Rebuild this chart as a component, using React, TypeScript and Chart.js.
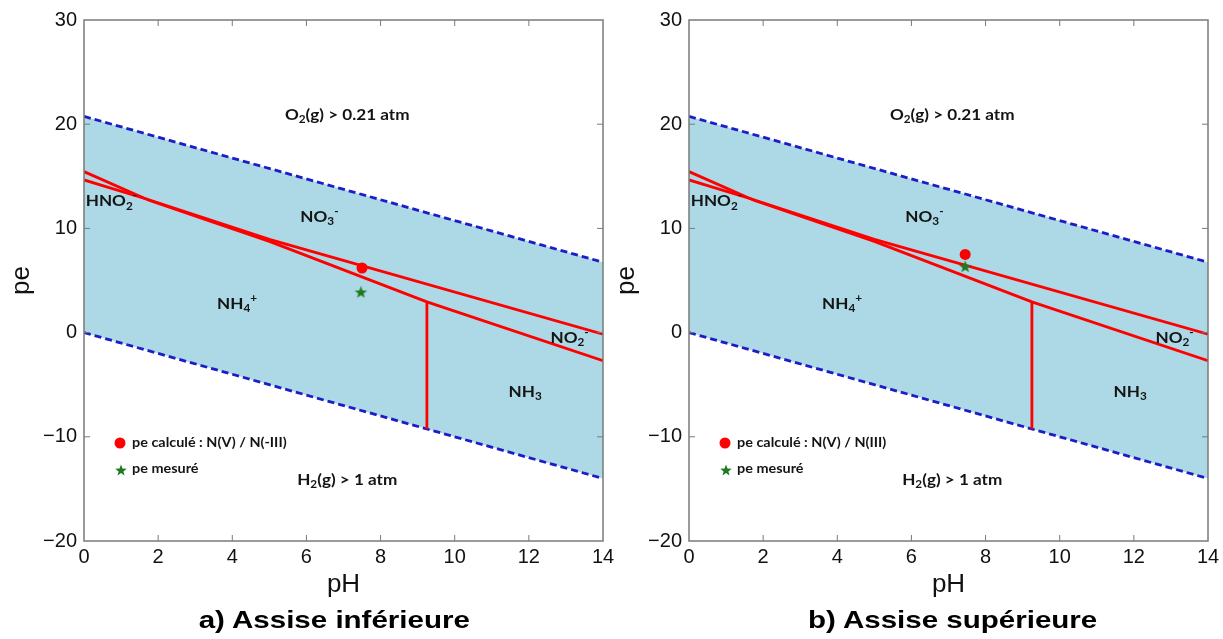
import React, { useEffect, useRef } from "react";
import { Chart, registerables } from "chart.js";

Chart.register(...registerables);

// ---- data ----
const X_TICKS = [0, 2, 4, 6, 8, 10, 12, 14];
const Y_TICKS = [-20, -10, 0, 10, 20, 30];

const WATER_PH = [0, 14];
const O2_PE = [20.75, 6.75];
const H2_PE = [0, -14];

const LINE_A_PH = [0, 1.75, 5.0, 9.25, 14];
const LINE_A_PE = [15.45, 12.7, 8.75, 2.95, -2.7];
const LINE_B_PH = [0, 1.75, 5.0, 14];
const LINE_B_PE = [14.65, 12.75, 8.95, -0.15];
const PKA_PH = [9.25, 9.25];
const PKA_PE = [2.95, -9.25];

const CALC_PH = [7.5, 7.45];
const CALC_PE = [6.2, 7.5];
const MEAS_PH = [7.47, 7.45];
const MEAS_PE = [3.9, 6.35];

const CAPTIONS = ["a) Assise inférieure", "b) Assise supérieure"];
const LEGEND_CALC = ["pe calculé : N(V) / N(-III)", "pe calculé : N(V) / N(III)"];
const LEGEND_MEAS = "pe mesuré";

const LABEL_TEXT = ["O_2(g) > 0.21 atm", "NO_3^-", "HNO_2^-", "NH_4^+", "NO_2^-", "NH_3", "H_2(g) > 1 atm"];
const LABEL_PH = [7.1, 6.35, 0.74, 4.13, 13.1, 11.9, 7.1];
const LABEL_PE = [21.0, 11.2, 12.7, 2.85, -0.4, -5.6, -14.05];

const AXIS_FONT = '"Liberation Sans", Arial, Helvetica, sans-serif';
const NOTE_FONT = 'Lato, "Open Sans", sans-serif';

const zip = (xs: number[], ys: number[]) => xs.map((x, i) => ({ x, y: ys[i] }));

function makeStar(r: number, color: string) {
  const c = document.createElement("canvas");
  const s = Math.ceil(r * 2 + 2);
  c.width = s;
  c.height = s;
  const ctx = c.getContext("2d")!;
  ctx.beginPath();
  for (let k = 0; k < 10; k++) {
    const rad = k % 2 === 0 ? r : r * 0.42;
    const a = -Math.PI / 2 + (k * Math.PI) / 5;
    const px = s / 2 + rad * Math.cos(a);
    const py = s / 2 + 0.6 + rad * Math.sin(a);
    if (k === 0) ctx.moveTo(px, py);
    else ctx.lineTo(px, py);
  }
  ctx.closePath();
  ctx.fillStyle = color;
  ctx.fill();
  return c;
}

type Part = { t: string; k: "n" | "b" | "p" };
function parseRich(s: string): Part[] {
  const parts: Part[] = [];
  for (let i = 0; i < s.length; i++) {
    const c = s[i];
    if (c === "_") {
      parts.push({ t: s[i + 1], k: "b" });
      i++;
    } else if (c === "^") {
      parts.push({ t: s[i + 1], k: "p" });
      i++;
    } else {
      const last = parts[parts.length - 1];
      if (last && last.k === "n") last.t += c;
      else parts.push({ t: c, k: "n" });
    }
  }
  return parts;
}

function drawRich(
  ctx: CanvasRenderingContext2D,
  s: string,
  x: number,
  y: number,
  size: number,
  align: "center" | "left",
  sx: number
) {
  const parts = parseRich(s);
  const fN = `bold ${size}px ${NOTE_FONT}`;
  const fS = `bold ${Math.round(size * 0.68)}px ${NOTE_FONT}`;
  let w = 0;
  parts.forEach((p) => {
    ctx.font = p.k === "n" ? fN : fS;
    w += ctx.measureText(p.t).width;
  });
  w *= sx;
  const x0 = align === "center" ? x - w / 2 : x;
  const base = y + size * 0.36;
  ctx.save();
  ctx.translate(x0, 0);
  ctx.scale(sx, 1);
  let cx = 0;
  ctx.textAlign = "left";
  ctx.textBaseline = "alphabetic";
  ctx.fillStyle = "#141414";
  parts.forEach((p) => {
    ctx.font = p.k === "n" ? fN : fS;
    const yy = p.k === "n" ? base : p.k === "b" ? base + size * 0.22 : base - size * 0.42;
    ctx.fillText(p.t, cx, yy);
    cx += ctx.measureText(p.t).width;
  });
  ctx.restore();
}

function minusFmt(v: number | string) {
  const n = Number(v);
  return n < 0 ? "\u2212" + Math.abs(n) : String(n);
}

function Panel({ idx }: { idx: number }) {
  const ref = useRef<HTMLCanvasElement | null>(null);
  useEffect(() => {
    const canvas = ref.current!;
    const star = makeStar(6.5, "#1e7a1e");
    const legendStar = makeStar(6, "#1e7a1e");

    const overlay = {
      id: "overlay" + idx,
      afterDatasetsDraw(chart: any) {
        const ctx: CanvasRenderingContext2D = chart.ctx;
        const { left, right, top, bottom } = chart.chartArea;
        const xs = chart.scales.x;
        const ys = chart.scales.y;
        ctx.save();
        // frame
        ctx.strokeStyle = "#7a7a7a";
        ctx.lineWidth = 1.5;
        ctx.strokeRect(left, top, right - left, bottom - top);
        // inside ticks
        ctx.lineWidth = 1;
        const tl = 6;
        ctx.beginPath();
        X_TICKS.forEach((v) => {
          const px = xs.getPixelForValue(v);
          if (v === X_TICKS[0] || v === X_TICKS[X_TICKS.length - 1]) return;
          ctx.moveTo(px, bottom);
          ctx.lineTo(px, bottom - tl);
          ctx.moveTo(px, top);
          ctx.lineTo(px, top + tl);
        });
        Y_TICKS.forEach((v) => {
          const py = ys.getPixelForValue(v);
          if (v === Y_TICKS[0] || v === Y_TICKS[Y_TICKS.length - 1]) return;
          ctx.moveTo(left, py);
          ctx.lineTo(left + tl, py);
          ctx.moveTo(right, py);
          ctx.lineTo(right - tl, py);
        });
        ctx.stroke();
        // region labels
        LABEL_TEXT.forEach((t, i) => {
          drawRich(ctx, t, xs.getPixelForValue(LABEL_PH[i]), ys.getPixelForValue(LABEL_PE[i]), 16, "center", 1.07);
        });
        // legend
        const lx = left + 36;
        const ly1 = top + 423;
        const ly2 = top + 450;
        ctx.fillStyle = "#ff0000";
        ctx.beginPath();
        ctx.arc(lx, ly1, 5.5, 0, Math.PI * 2);
        ctx.fill();
        ctx.drawImage(legendStar, lx + 1 - legendStar.width / 2, ly2 - legendStar.height / 2);
        drawRich(ctx, LEGEND_CALC[idx], lx + 12, ly1 - 1, 14, "left", 1.03);
        drawRich(ctx, LEGEND_MEAS, lx + 12, ly2 - 2, 14, "left", 1.03);
        ctx.restore();
      },
    };

    const chart = new Chart(canvas, {
      type: "scatter",
      data: {
        datasets: [
          {
            label: "pe mesuré",
            data: [{ x: MEAS_PH[idx], y: MEAS_PE[idx] }],
            pointStyle: star as any,
            pointRadius: 7,
            showLine: false,
            order: 0,
          },
          {
            label: "pe calculé",
            data: [{ x: CALC_PH[idx], y: CALC_PE[idx] }],
            pointStyle: "circle",
            pointRadius: 5.5,
            backgroundColor: "#ff0000",
            borderWidth: 0,
            showLine: false,
            order: 1,
          },
          {
            label: "A",
            data: zip(LINE_A_PH, LINE_A_PE),
            showLine: true,
            borderColor: "#ff0000",
            borderWidth: 2.8,
            pointRadius: 0,
            fill: false,
            order: 2,
          },
          {
            label: "B",
            data: zip(LINE_B_PH, LINE_B_PE),
            showLine: true,
            borderColor: "#ff0000",
            borderWidth: 2.8,
            pointRadius: 0,
            fill: false,
            order: 2,
          },
          {
            label: "pKa",
            data: zip(PKA_PH, PKA_PE),
            showLine: true,
            borderColor: "#ff0000",
            borderWidth: 2.8,
            pointRadius: 0,
            fill: false,
            order: 2,
          },
          {
            label: "O2",
            data: zip(WATER_PH, O2_PE),
            showLine: true,
            borderColor: "#1c1cc8",
            borderWidth: 2.8,
            borderDash: [7, 4],
            pointRadius: 0,
            backgroundColor: "#add8e6",
            fill: "+1",
            order: 4,
          },
          {
            label: "H2",
            data: zip(WATER_PH, H2_PE),
            showLine: true,
            borderColor: "#1c1cc8",
            borderWidth: 2.8,
            borderDash: [7, 4],
            pointRadius: 0,
            fill: false,
            order: 3,
          },
        ],
      },
      options: {
        responsive: false,
        animation: false,
        layout: { padding: { left: 0, right: 15, top: 20, bottom: 38 } },
        plugins: {
          legend: { display: false },
          tooltip: { enabled: false },
        },
        scales: {
          x: {
            type: "linear",
            min: 0,
            max: 14,
            afterBuildTicks: (s: any) => {
              s.ticks = X_TICKS.map((v) => ({ value: v }));
            },
            afterFit: (s: any) => {
              s.height = 60;
              s.paddingLeft = 0;
              s.paddingRight = 0;
            },
            ticks: {
              autoSkip: false,
              maxRotation: 0,
              padding: 4,
              color: "#111",
              font: { family: AXIS_FONT, size: 20 },
              callback: (v: any) => minusFmt(v),
            },
            grid: { display: false, drawTicks: false },
            border: { display: false },
            title: {
              display: true,
              text: "pH",
              color: "#111",
              font: { family: AXIS_FONT, size: 26 },
              padding: { top: 0, bottom: 1 },
            },
          },
          y: {
            type: "linear",
            min: -20,
            max: 30,
            afterBuildTicks: (s: any) => {
              s.ticks = Y_TICKS.map((v) => ({ value: v }));
            },
            afterFit: (s: any) => {
              s.width = 84;
              s.paddingTop = 0;
              s.paddingBottom = 0;
            },
            ticks: {
              autoSkip: false,
              padding: 7,
              color: "#111",
              font: { family: AXIS_FONT, size: 20 },
              callback: (v: any) => minusFmt(v),
            },
            grid: { display: false, drawTicks: false },
            border: { display: false },
            title: {
              display: true,
              text: "pe",
              color: "#111",
              font: { family: AXIS_FONT, size: 26 },
              padding: { top: 6, bottom: 0 },
            },
          },
        },
      },
      plugins: [overlay],
    } as any);
    return () => chart.destroy();
  }, [idx]);

  const left = idx === 0 ? 0 : 605;
  const capCenter = idx === 0 ? 334 : 953;
  return (
    <>
      <canvas
        ref={ref}
        width={618}
        height={639}
        style={{ position: "absolute", left, top: 0, width: 618, height: 639 }}
      />
      <div
        style={{
          position: "absolute",
          left: capCenter - 200,
          width: 400,
          top: 608,
          textAlign: "center",
          fontFamily: AXIS_FONT,
          fontWeight: "bold",
          fontSize: 24,
          lineHeight: "24px",
          color: "#000",
          whiteSpace: "nowrap",
        }}
      >
        <span style={{ display: "inline-block", transform: "scaleX(1.23)" }}>{CAPTIONS[idx]}</span>
      </div>
    </>
  );
}

export default function App() {
  return (
    <div
      style={{
        position: "fixed",
        left: 0,
        top: 0,
        width: 1223,
        height: 639,
        background: "#fff",
        overflow: "hidden",
      }}
    >
      <Panel idx={0} />
      <Panel idx={1} />
    </div>
  );
}
